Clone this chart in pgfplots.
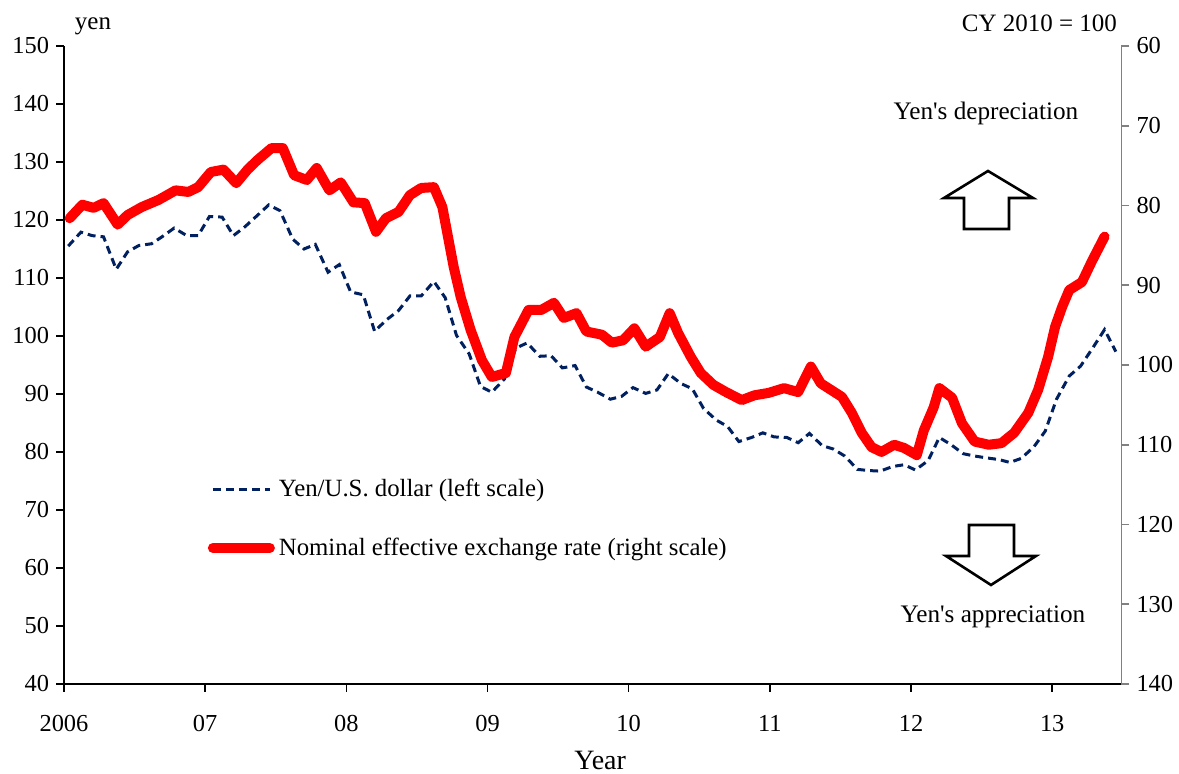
\documentclass[border=0pt]{standalone}
\usepackage{fontspec}
\setmainfont{Liberation Serif}
\usepackage{pgfplots}
\usepackage{pgfplotstable}
\pgfplotsset{compat=1.18}
\definecolor{usdnavy}{HTML}{002060}
\definecolor{neerred}{HTML}{FF0000}
\definecolor{rgray}{HTML}{808080}

% yen / US dollar, monthly averages (left scale)
\pgfplotstableread{
x y
2006.03 115.5
2006.12 117.9
2006.20 117.3
2006.28 117.1
2006.37 111.5
2006.45 114.5
2006.53 115.6
2006.62 115.9
2006.70 117.2
2006.78 118.6
2006.87 117.3
2006.95 117.3
2007.03 120.6
2007.12 120.5
2007.20 117.3
2007.28 118.8
2007.37 120.8
2007.45 122.6
2007.53 121.6
2007.62 116.7
2007.70 115.0
2007.78 115.8
2007.87 111.0
2007.95 112.3
2008.03 107.6
2008.12 107.1
2008.20 100.8
2008.28 102.7
2008.37 104.4
2008.45 106.9
2008.53 106.9
2008.62 109.4
2008.70 106.6
2008.78 100.1
2008.87 96.9
2008.95 91.3
2009.03 90.3
2009.12 92.6
2009.20 97.9
2009.28 98.8
2009.37 96.5
2009.45 96.6
2009.53 94.5
2009.62 94.9
2009.70 91.2
2009.78 90.3
2009.87 89.1
2009.95 89.6
2010.03 91.1
2010.12 90.1
2010.20 90.7
2010.28 93.5
2010.37 91.8
2010.45 90.9
2010.53 87.5
2010.62 85.5
2010.70 84.4
2010.78 81.8
2010.87 82.5
2010.95 83.3
2011.03 82.6
2011.12 82.5
2011.20 81.6
2011.28 83.2
2011.37 81.1
2011.45 80.5
2011.53 79.3
2011.62 77.0
2011.70 76.8
2011.78 76.7
2011.87 77.5
2011.95 77.8
2012.03 76.9
2012.12 78.5
2012.20 82.5
2012.28 81.3
2012.37 79.7
2012.45 79.3
2012.53 79.0
2012.62 78.7
2012.70 78.2
2012.78 78.9
2012.87 80.9
2012.95 83.6
2013.03 89.1
2013.12 93.1
2013.20 94.8
2013.28 97.7
2013.37 101.1
2013.45 97.3
}\usd

% nominal effective exchange rate, CY2010=100 (right scale, reversed)
\pgfplotstableread{
x y
2006.04 81.6
2006.13 79.9
2006.21 80.3
2006.28 79.7
2006.38 82.4
2006.45 81.2
2006.55 80.2
2006.67 79.3
2006.79 78.1
2006.88 78.3
2006.95 77.7
2007.04 75.8
2007.13 75.5
2007.22 77.2
2007.30 75.5
2007.37 74.3
2007.47 72.8
2007.55 72.8
2007.63 76.2
2007.72 76.8
2007.79 75.3
2007.88 78.1
2007.96 77.1
2008.05 79.6
2008.13 79.7
2008.21 83.3
2008.28 81.6
2008.37 80.8
2008.45 78.7
2008.53 77.8
2008.62 77.7
2008.68 80.2
2008.76 87.7
2008.81 91.5
2008.88 95.6
2008.96 99.4
2009.03 101.5
2009.13 101.0
2009.19 96.5
2009.29 93.1
2009.38 93.1
2009.47 92.2
2009.54 94.1
2009.63 93.5
2009.70 95.8
2009.81 96.2
2009.88 97.2
2009.96 96.9
2010.04 95.4
2010.12 97.7
2010.22 96.5
2010.29 93.5
2010.35 96.0
2010.44 99.0
2010.51 101.0
2010.60 102.5
2010.69 103.4
2010.80 104.4
2010.89 103.8
2010.99 103.5
2011.10 102.9
2011.20 103.4
2011.29 100.2
2011.36 102.3
2011.51 104.0
2011.58 106.0
2011.65 108.5
2011.72 110.3
2011.79 110.9
2011.88 110.0
2011.95 110.4
2012.04 111.3
2012.09 108.2
2012.16 105.3
2012.20 102.9
2012.29 104.1
2012.36 107.3
2012.45 109.6
2012.55 110.0
2012.64 109.8
2012.73 108.5
2012.83 106.0
2012.90 103.1
2012.97 99.0
2013.02 95.2
2013.07 92.7
2013.12 90.6
2013.21 89.6
2013.28 87.0
2013.37 83.9
}\neer

\pgfplotsset{
  base/.style={
    scale only axis, width=528.75pt, height=319pt,
    at={(0,0)}, anchor=south west,
    xmin=2006, xmax=2013.49,
    tick align=outside, major tick length=4pt,
    tick label style={font=\fontsize{12.2}{14}\selectfont},
    /pgf/number format/assume math mode=true,
  },
}

\begin{document}
\begin{tikzpicture}
\useasboundingbox (-32pt,-45pt) rectangle (557.5pt,342pt);

\begin{axis}[base,
  ymin=40, ymax=150, ytick={40,50,...,150},
  axis x line*=bottom, axis y line*=left,
  axis line style={-, black, line width=0.8pt},
  tick style={black, line width=0.8pt},
  xtick={2006,...,2013}, xticklabels={2006,07,08,09,10,11,12,13},
  xticklabel style={yshift=-8pt},
  xlabel={Year},
  xlabel style={font=\fontsize{14}{16}\selectfont, at={(axis description cs:0.507,0)}, anchor=center, yshift=-38pt},
]
\addplot[usdnavy, line width=1.5pt, dash pattern=on 4pt off 2.5pt] table {\usd};
\end{axis}

\begin{axis}[base,
  ymin=60, ymax=140, ytick={60,70,...,140}, y dir=reverse,
  axis x line=none, axis y line*=right,
  axis line style={-, rgray, line width=0.8pt},
  tick style={rgray, line width=0.8pt},
  legend style={at={(0.130,0.334)}, anchor=north west, draw=none, fill=none,
    font=\fontsize{12.4}{14}\selectfont, row sep=15pt,
    /tikz/every even column/.append style={column sep=3pt}},
  legend cell align=left,
  legend image code/.code={\draw[#1] (0pt,0pt) -- (28.5pt,0pt);},
]
\addlegendimage{usdnavy, line width=1.5pt, dash pattern=on 4pt off 2.5pt}
\addlegendentry{Yen/U.S. dollar (left scale)}
\addplot[neerred, line width=5pt, line cap=round, line join=round] table {\neer};
\addlegendentry{Nominal effective exchange rate (right scale)}
\end{axis}

\node[font=\fontsize{12.5}{14}\selectfont] at (14.5pt,329pt) {yen};
\node[font=\fontsize{12.5}{14}\selectfont, anchor=east] at (530pt,330.5pt) {CY 2010 = 100};

\node[font=\fontsize{12.6}{14}\selectfont] at (461pt,285.5pt) {Yen\textquotesingle s depreciation};
\node[font=\fontsize{12.6}{14}\selectfont] at (464.5pt,33.5pt) {Yen\textquotesingle s appreciation};

\draw[line width=1.3pt, line join=miter] (440pt,243pt) -- (462pt,256.5pt) -- (484.5pt,243pt)
  -- (472.5pt,243pt) -- (472.5pt,227.5pt) -- (450pt,227.5pt) -- (450pt,243pt) -- cycle;
\draw[line width=1.3pt, line join=miter] (452.5pt,79.5pt) -- (475pt,79.5pt) -- (475pt,64pt)
  -- (486pt,64pt) -- (463.5pt,49.5pt) -- (441pt,64pt) -- (452.5pt,64pt) -- cycle;
\end{tikzpicture}
\end{document}
